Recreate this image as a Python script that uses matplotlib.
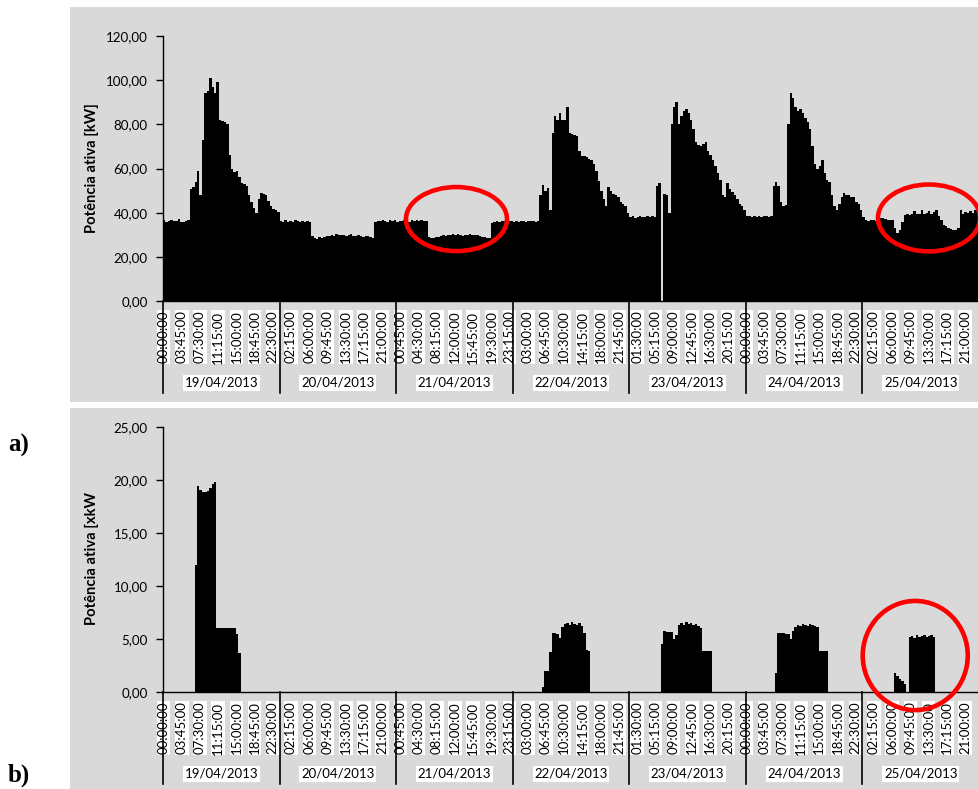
import numpy as np
import matplotlib
matplotlib.use("Agg")
import matplotlib.pyplot as plt
from matplotlib.patches import Rectangle, Ellipse
import matplotlib.transforms as mtransforms

# ---------------- data (half-hour values, 48 per day) ----------------
dates = ["19/04/2013", "20/04/2013", "21/04/2013", "22/04/2013",
         "23/04/2013", "24/04/2013", "25/04/2013"]

time_labels = ["00:00:00", "03:45:00", "07:30:00", "11:15:00", "15:00:00", "18:45:00", "22:30:00",
               "02:15:00", "06:00:00", "09:45:00", "13:30:00", "17:15:00", "21:00:00",
               "00:45:00", "04:30:00", "08:15:00", "12:00:00", "15:45:00", "19:30:00", "23:15:00",
               "03:00:00", "06:45:00", "10:30:00", "14:15:00", "18:00:00", "21:45:00",
               "01:30:00", "05:15:00", "09:00:00", "12:45:00", "16:30:00", "20:15:00",
               "00:00:00", "03:45:00", "07:30:00", "11:15:00", "15:00:00", "18:45:00", "22:30:00",
               "02:15:00", "06:00:00", "09:45:00", "13:30:00", "17:15:00", "21:00:00"]

# (a) active power [kW]
top_19 = [36.5, 36.0, 36.4, 36.9, 36.1, 36.3, 37.2, 36.0, 35.9, 36.2, 36.5, 50.5,
          51.5, 54.0, 59.0, 48.0, 73.0, 94.0, 95.0, 101.0, 97.0, 94.0, 99.0, 82.0,
          81.5, 81.0, 80.0, 66.0, 60.0, 58.5, 59.0, 56.0, 53.5, 53.0, 52.0, 48.0,
          45.0, 42.0, 40.0, 46.0, 49.0, 48.5, 48.0, 45.5, 43.0, 41.5, 41.0, 40.5]
top_20 = [36.2, 36.0, 36.5, 35.8, 36.3, 36.0, 36.8, 36.1, 36.0, 36.4, 35.9, 36.2,
          36.0, 29.5, 28.5, 28.3, 28.8, 28.5, 29.0, 29.3, 29.5, 29.8, 29.6, 30.2,
          29.7, 29.9, 30.1, 29.5, 29.8, 30.3, 29.6, 29.4, 29.9, 29.5, 29.2, 29.6,
          29.3, 28.8, 28.6, 36.0, 36.3, 36.1, 36.5, 36.2, 36.0, 36.6, 36.3, 36.5]
top_21 = [36.0, 36.4, 36.1, 36.6, 36.2, 36.0, 36.8, 36.3, 36.5, 36.1, 36.7, 36.4,
          36.2, 29.0, 28.6, 28.4, 28.9, 29.2, 29.5, 29.8, 29.4, 30.0, 29.7, 30.2,
          29.9, 30.4, 30.0, 29.6, 30.1, 29.8, 30.3, 29.7, 29.9, 30.1, 29.5, 29.2,
          29.0, 28.7, 28.5, 35.5, 36.0, 36.2, 35.8, 36.1, 36.3, 36.0, 36.4, 36.2]
top_22 = [36.0, 36.2, 35.9, 36.1, 36.3, 36.0, 36.2, 36.4, 36.1, 36.0, 36.3, 48.0,
          52.5, 50.0, 51.0, 41.0, 76.0, 84.0, 82.0, 85.0, 82.0, 82.0, 88.0, 76.0,
          75.5, 75.0, 74.5, 68.0, 65.5, 65.5, 65.0, 64.5, 64.0, 62.0, 59.0, 54.5,
          50.0, 46.0, 43.0, 51.5, 50.0, 48.5, 48.0, 47.0, 45.0, 44.0, 43.0, 40.0]
top_23 = [38.0, 38.3, 37.8, 38.1, 38.5, 37.9, 38.2, 38.4, 38.0, 38.6, 38.2, 52.0,
          53.5, 0.0, 48.3, 48.0, 40.0, 80.0, 88.0, 90.0, 80.0, 84.0, 86.0, 87.0,
          85.0, 82.0, 78.0, 72.0, 70.5, 70.0, 71.0, 72.0, 68.0, 66.0, 64.0, 61.0,
          58.0, 55.0, 48.0, 47.0, 53.5, 50.5, 49.5, 48.0, 46.0, 44.0, 43.0, 41.0]
top_24 = [38.3, 38.6, 38.0, 38.4, 38.2, 38.7, 38.1, 38.5, 38.3, 38.0, 38.6, 52.0,
          54.0, 52.0, 45.0, 43.0, 43.5, 80.0, 94.0, 92.0, 88.0, 86.0, 87.0, 85.0,
          83.0, 81.0, 78.0, 70.0, 62.0, 60.0, 61.0, 64.0, 58.0, 55.0, 54.0, 48.0,
          43.0, 41.0, 44.0, 47.0, 49.0, 48.0, 48.0, 47.0, 47.0, 45.0, 44.0, 41.0]
top_25 = [38.0, 36.8, 36.4, 36.9, 36.6, 36.2, 36.0, 37.4, 37.6, 37.2, 36.7, 36.9,
          36.5, 33.0, 31.0, 32.0, 36.0, 39.0, 39.2, 39.0, 39.5, 40.8, 39.3, 39.6,
          41.0, 39.4, 39.8, 40.9, 39.5, 40.2, 41.2, 38.5, 36.5, 34.5, 34.0, 33.0,
          32.5, 32.0, 32.0, 33.0, 41.0, 39.6, 40.5, 39.8, 40.8, 39.7, 41.0, 39.9]

# (b) active power [kW]
bot_19 = [0, 0, 0, 0, 0, 0, 0, 0, 0, 0, 0, 0,
          0, 12.0, 19.4, 19.1, 18.9, 18.9, 19.0, 19.2, 19.6, 19.8, 6.0, 6.0,
          6.0, 6.0, 6.0, 6.0, 6.0, 6.0, 5.5, 3.7, 0, 0, 0, 0,
          0, 0, 0, 0, 0, 0, 0, 0, 0, 0, 0, 0]
bot_20 = [0, 0, 0, 0, 0, 0, 0, 0, 0, 0, 0, 0,
          0, 0, 0, 0, 0, 0, 0, 0, 0, 0, 0, 0,
          0, 0, 0, 0, 0, 0, 0, 0, 0, 0, 0, 0,
          0, 0, 0, 0, 0, 0, 0, 0, 0, 0, 0, 0]
bot_21 = [0, 0, 0, 0, 0, 0, 0, 0, 0, 0, 0, 0,
          0, 0, 0, 0, 0, 0, 0, 0, 0, 0, 0, 0,
          0, 0, 0, 0, 0, 0, 0, 0, 0, 0, 0, 0,
          0, 0, 0, 0, 0, 0, 0, 0, 0, 0, 0, 0]
bot_22 = [0, 0, 0, 0, 0, 0, 0, 0, 0, 0, 0, 0,
          0.5, 2.0, 2.0, 3.8, 5.6, 5.6, 5.5, 5.1, 6.1, 6.4, 6.5, 6.3,
          6.6, 6.4, 6.3, 6.5, 6.2, 5.6, 4.0, 3.9, 0, 0, 0, 0,
          0, 0, 0, 0, 0, 0, 0, 0, 0, 0, 0, 0]
bot_23 = [0, 0, 0, 0, 0, 0, 0, 0, 0, 0, 0, 0,
          0, 4.5, 5.8, 5.7, 5.7, 5.7, 5.0, 5.4, 6.3, 6.5, 6.3, 6.6,
          6.4, 6.5, 6.3, 6.4, 6.2, 6.0, 3.9, 3.9, 3.9, 3.9, 0, 0,
          0, 0, 0, 0, 0, 0, 0, 0, 0, 0, 0, 0]
bot_24 = [0, 0, 0, 0, 0, 0, 0, 0, 0, 0, 0, 0,
          1.8, 5.6, 5.6, 5.6, 5.5, 5.5, 5.0, 5.8, 6.1, 6.3, 6.2, 6.4,
          6.3, 6.2, 6.4, 6.3, 6.2, 6.1, 3.9, 3.9, 3.9, 3.9, 0, 0,
          0, 0, 0, 0, 0, 0, 0, 0, 0, 0, 0, 0]
bot_25 = [0, 0, 0, 0, 0, 0, 0, 0, 0, 0, 0, 0,
          0, 1.8, 1.5, 1.2, 1.0, 0.8, 0, 5.2, 5.3, 5.1, 5.4, 5.2,
          5.3, 5.4, 5.2, 5.3, 5.4, 5.2, 0, 0, 0, 0, 0, 0,
          0, 0, 0, 0, 0, 0, 0, 0, 0, 0, 0, 0]

top_ticks = [0, 20, 40, 60, 80, 100, 120]
top_tick_labels = ["0,00", "20,00", "40,00", "60,00", "80,00", "100,00", "120,00"]
bot_ticks = [0, 5, 10, 15, 20, 25]
bot_tick_labels = ["0,00", "5,00", "10,00", "15,00", "20,00", "25,00"]

top_values = np.concatenate([top_19, top_20, top_21, top_22, top_23, top_24, top_25])
bot_values = np.concatenate([bot_19, bot_20, bot_21, bot_22, bot_23, bot_24, bot_25])

# ---------------- layout ----------------
W, H = 979, 789
FONT = "Lato"
fig = plt.figure(figsize=(W / 100, H / 100), dpi=100)
fig.patch.set_facecolor("white")

def frac_rect(x0, y0, x1, y1):
    return Rectangle((x0 / W, 1 - y1 / H), (x1 - x0) / W, (y1 - y0) / H,
                     transform=fig.transFigure, facecolor="#d9d9d9",
                     edgecolor="none", zorder=-5)

fig.patches.append(frac_rect(70, 7, 979, 402))
fig.patches.append(frac_rect(70, 408, 979, 789))

SLOTS_PER_DAY = 96          # 15-minute slots
N_SLOTS = SLOTS_PER_DAY * len(dates)
STEP = 2                     # half-hour values -> 2 slots each
tick_pos = np.arange(0, N_SLOTS, 15)

def make_panel(rect, values, ymax, ticks, tick_labels, ylabel):
    ax = fig.add_axes(rect)
    ax.set_facecolor("none")
    edges = np.arange(0, len(values) * STEP + 1, STEP)
    ax.stairs(values, edges, fill=True, color="black", baseline=0, zorder=2)
    ax.set_xlim(0, N_SLOTS)
    ax.set_ylim(0, ymax)
    for s in ["top", "right"]:
        ax.spines[s].set_visible(False)
    for s in ["left", "bottom"]:
        ax.spines[s].set_color("black")
        ax.spines[s].set_linewidth(1.0)
        ax.spines[s].set_zorder(3)
    ax.set_yticks(ticks)
    ax.set_yticklabels(tick_labels, fontfamily=FONT, fontsize=9.6)
    ax.tick_params(axis="y", direction="out", length=5, width=1, pad=6, colors="black")
    ax.set_xticks([])
    trans = mtransforms.blended_transform_factory(ax.transData, ax.transAxes)
    for p, lab in zip(tick_pos, time_labels):
        ax.text(p + 0.5, -0.036, lab, transform=trans, rotation=90, ha="center",
                va="top", fontfamily=FONT, fontsize=9.5, color="black",
                bbox=dict(facecolor="white", edgecolor="none", pad=0.6))
    for d, lab in enumerate(dates):
        ax.text(d * SLOTS_PER_DAY + SLOTS_PER_DAY / 2, -0.309, lab, transform=trans,
                ha="center", va="center", fontfamily=FONT, fontsize=9.5, color="black",
                bbox=dict(facecolor="white", edgecolor="none", pad=1.2))
    for d in range(len(dates) + 1):
        ax.plot([d * SLOTS_PER_DAY] * 2, [0, -0.349], transform=trans, color="black",
                lw=1.2, clip_on=False, zorder=4)
    ax.text(-0.087, 0.502, ylabel, transform=ax.transAxes, rotation=90, ha="center",
            va="center", fontfamily=FONT, fontweight="bold", fontsize=10.6)
    return ax

ax1 = make_panel([163 / W, 1 - 301 / H, 816 / W, 265 / H], top_values, 120,
                 top_ticks, top_tick_labels, "Potência ativa [kW]")
ax2 = make_panel([163 / W, 1 - 692 / H, 816 / W, 265 / H], bot_values, 25,
                 bot_ticks, bot_tick_labels, "Potência ativa [xkW")

# red highlight ellipses (data coordinates)
ax1.add_patch(Ellipse((241.7, 37.1), 83.2, 29.0, fill=False, edgecolor="#ff0000",
                      lw=3.3, clip_on=False, zorder=5))
ax1.add_patch(Ellipse((630.8, 37.6), 84.0, 30.3, fill=False, edgecolor="#ff0000",
                      lw=3.3, clip_on=False, zorder=5))
ax2.add_patch(Ellipse((619.5, 3.44), 86.5, 10.3, fill=False, edgecolor="#ff0000",
                      lw=3.3, clip_on=False, zorder=5))

fig.text(8 / W, 1 - 445 / H, "a)", fontfamily="Liberation Serif", fontweight="bold",
         fontsize=18, va="center", ha="left")
fig.text(8 / W, 1 - 775 / H, "b)", fontfamily="Liberation Serif", fontweight="bold",
         fontsize=18, va="center", ha="left")

fig.savefig("out.png", dpi=100)
